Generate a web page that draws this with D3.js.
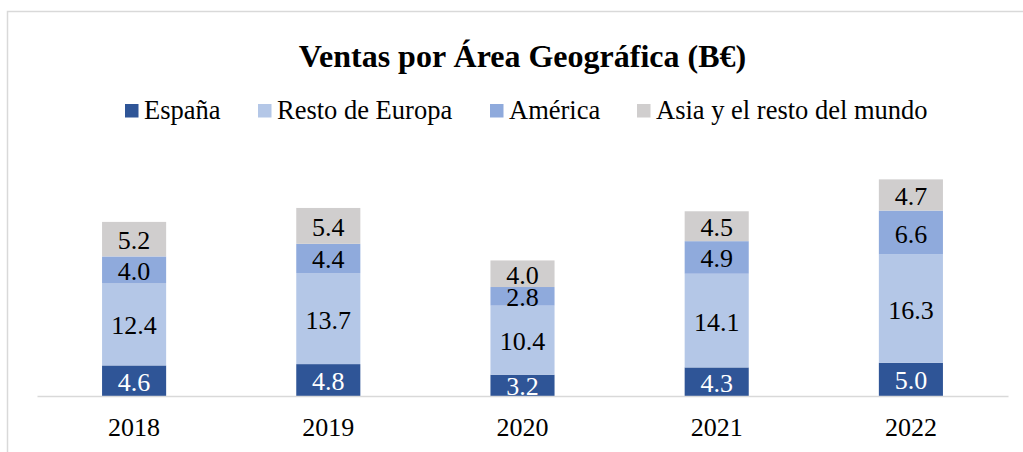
<!DOCTYPE html>
<html>
<head>
  <meta charset="utf-8">
  <title>Ventas por Área Geográfica</title>
  <script src="https://d3js.org/d3.v7.min.js"></script>
  <style>
    body { margin: 0; background: white; }
    text { font-family: "Liberation Serif", "Times New Roman", serif; }
  </style>
</head>
<body>
  <div id="chart"></div>
  <script>
    var years = ["2018", "2019", "2020", "2021", "2022"];
    var series = ["España", "Resto de Europa", "América", "Asia y el resto del mundo"];
    var espana = [4.6, 4.8, 3.2, 4.3, 5.0];
    var restoEuropa = [12.4, 13.7, 10.4, 14.1, 16.3];
    var america = [4.0, 4.4, 2.8, 4.9, 6.6];
    var asia = [5.2, 5.4, 4.0, 4.5, 4.7];
    var colors = ["#2f5597", "#b4c7e7", "#8faadc", "#d0cece"];
    var labelColors = ["#ffffff", "#000000", "#000000", "#000000"];

    var width = 1023, height = 452;
    var plotLeft = 37, plotRight = 1008, baseline = 396;

    var svg = d3.select("#chart").append("svg")
      .attr("width", width)
      .attr("height", height);

    // chart border
    svg.append("rect")
      .attr("x", 7.5).attr("y", 11.5)
      .attr("width", 1030).attr("height", 460)
      .attr("fill", "none")
      .attr("stroke", "#d9d9d9")
      .attr("stroke-width", 1.5);

    svg.append("text")
      .attr("x", 522.5).attr("y", 67)
      .attr("text-anchor", "middle")
      .style("font-size", "32px")
      .style("font-weight", "bold")
      .text("Ventas por Área Geográfica (B€)");

    // legend
    var legendX = [125, 258, 490, 637];
    var legend = svg.selectAll("g.legend").data(series).join("g")
      .attr("class", "legend")
      .attr("transform", function (d, i) { return "translate(" + legendX[i] + ",0)"; });
    legend.append("rect")
      .attr("x", 0).attr("y", 104)
      .attr("width", 13.5).attr("height", 13.5)
      .attr("fill", function (d, i) { return colors[i]; });
    legend.append("text")
      .attr("x", 19).attr("y", 119)
      .style("font-size", "26.5px")
      .text(function (d) { return d; });

    var table = years.map(function (y, i) {
      return { year: y, s0: espana[i], s1: restoEuropa[i], s2: america[i], s3: asia[i] };
    });
    var keys = ["s0", "s1", "s2", "s3"];
    var stack = d3.stack().keys(keys)(table);

    var x = d3.scaleBand().domain(years).range([plotLeft, plotRight]).paddingInner(0.67).paddingOuter(0.335);
    var y = d3.scaleLinear().domain([0, 35]).range([baseline, baseline - 35 * 6.645]);

    var layers = svg.selectAll("g.layer").data(stack).join("g")
      .attr("class", "layer")
      .attr("fill", function (d, i) { return colors[i]; });

    layers.selectAll("rect").data(function (d) { return d; }).join("rect")
      .attr("x", function (d) { return x(d.data.year); })
      .attr("y", function (d) { return y(d[1]); })
      .attr("width", x.bandwidth())
      .attr("height", function (d) { return y(d[0]) - y(d[1]); });

    layers.each(function (layer, li) {
      d3.select(this).selectAll("text").data(layer).join("text")
        .attr("x", function (d) { return x(d.data.year) + x.bandwidth() / 2; })
        .attr("y", function (d) { return (y(d[0]) + y(d[1])) / 2 + 10; })
        .attr("text-anchor", "middle")
        .attr("fill", labelColors[li])
        .style("font-size", "26px")
        .text(function (d) { return (d[1] - d[0]).toFixed(1); });
    });

    // x axis
    var axis = svg.append("g")
      .attr("transform", "translate(0," + baseline + ")")
      .call(d3.axisBottom(x).tickSize(0).tickPadding(22));
    axis.select(".domain").attr("stroke", "#d9d9d9").attr("stroke-width", 1.5);
    axis.selectAll("text")
      .style("font-family", "'Liberation Serif', 'Times New Roman', serif")
      .style("font-size", "26px")
      .attr("fill", "#000");
  </script>
</body>
</html>
